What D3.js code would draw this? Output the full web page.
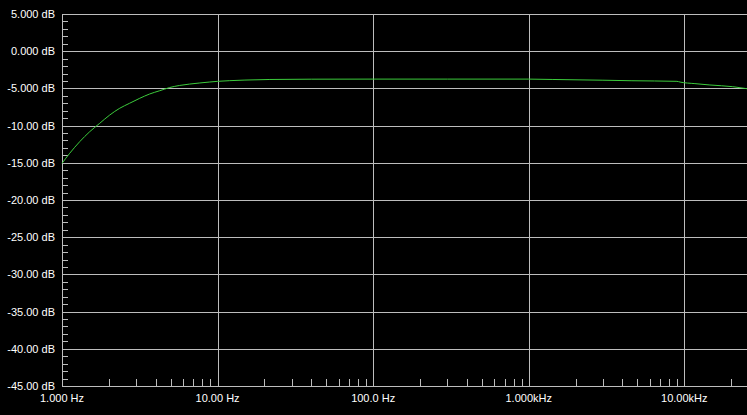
<!DOCTYPE html>
<html><head><meta charset="utf-8">
<script src="https://cdn.jsdelivr.net/npm/d3@7"></script>
<style>html,body{margin:0;padding:0;background:#000;overflow:hidden}</style>
</head><body>
<svg id="c" width="747" height="415"></svg>
<script>
// Frequency response data (Hz, dB)
const freqs = [1, 1.121, 1.30, 1.507, 1.748, 2.026, 2.35, 2.72, 3.16, 3.66, 4.25, 4.93, 5.71, 6.6, 7.68, 8.91, 10, 11.98, 15, 21.7, 40, 100, 300, 1000, 1430, 3000, 4610, 8970, 9400, 11700, 14600, 20500, 25300];
const dbValues = [-15.07, -13.72, -12.16, -10.82, -9.69, -8.58, -7.67, -7.0, -6.33, -5.75, -5.31, -4.88, -4.60, -4.42, -4.27, -4.14, -4.05, -3.96, -3.88, -3.80, -3.76, -3.75, -3.75, -3.75, -3.80, -3.90, -3.97, -4.05, -4.15, -4.36, -4.54, -4.77, -5.04];
const yTickValues = [5, 0, -5, -10, -15, -20, -25, -30, -35, -40, -45];
const yTickLabels = ["5.000 dB", "0.000 dB", "-5.000 dB", "-10.00 dB", "-15.00 dB", "-20.00 dB", "-25.00 dB", "-30.00 dB", "-35.00 dB", "-40.00 dB", "-45.00 dB"];
const xTickValues = [1, 10, 100, 1000, 10000];
const xTickLabels = ["1.000 Hz", "10.00 Hz", "100.0 Hz", "1.000kHz", "10.00kHz"];

(function () {
const svg = d3.select("#c");
const pLeft = 62, pRight = 747, pTop = 14, pBottom = 386;
const x = d3.scaleLog().domain([1, 25300]).range([pLeft, pRight]);
const y = d3.scaleLinear().domain([-45, 5]).range([pBottom, pTop]);
const grid = "#bdbdbd";
const px = v => Math.round(v) + 0.5;

const g = svg.append("g").attr("shape-rendering", "crispEdges");
g.selectAll("line.h").data(yTickValues).join("line")
  .attr("x1", pLeft).attr("x2", pRight)
  .attr("y1", d => px(y(d))).attr("y2", d => px(y(d)))
  .attr("stroke", grid);
g.selectAll("line.v").data(xTickValues).join("line")
  .attr("x1", d => px(x(d))).attr("x2", d => px(x(d)))
  .attr("y1", pTop).attr("y2", pBottom)
  .attr("stroke", grid);
const yMinor = d3.range(-45, 5.01, 1).filter(v => v % 5 !== 0);
g.selectAll("line.ym").data(yMinor).join("line")
  .attr("x1", pLeft).attr("x2", pLeft + 6)
  .attr("y1", d => px(y(d))).attr("y2", d => px(y(d)))
  .attr("stroke", grid);
const xMinor = [];
[1, 10, 100, 1000, 10000].forEach(dec => { for (let k = 2; k <= 9; k++) { const f = dec * k; if (f <= 25300) xMinor.push(f); } });
g.selectAll("line.xm").data(xMinor).join("line")
  .attr("x1", d => px(x(d))).attr("x2", d => px(x(d)))
  .attr("y1", pBottom - 7).attr("y2", pBottom)
  .attr("stroke", grid);

svg.selectAll("text.yl").data(yTickValues).join("text")
  .attr("x", 55).attr("y", d => y(d) + 4)
  .attr("text-anchor", "end")
  .attr("fill", "#ffffff")
  .style("font", "11px 'Liberation Sans', Arial, sans-serif")
  .text((d, i) => yTickLabels[i]);
svg.selectAll("text.xl").data(xTickValues).join("text")
  .attr("x", d => x(d)).attr("y", 402)
  .attr("text-anchor", "middle")
  .attr("fill", "#ffffff")
  .style("font", "11px 'Liberation Sans', Arial, sans-serif")
  .text((d, i) => xTickLabels[i]);

const pts = freqs.map((f, i) => [f, dbValues[i]]);
const line = d3.line().x(d => x(d[0])).y(d => y(d[1])).curve(d3.curveMonotoneX);
svg.append("path").attr("d", line(pts))
  .attr("fill", "none").attr("stroke", "#3ccc3c").attr("stroke-width", 1);
})();
</script>
</body></html>
